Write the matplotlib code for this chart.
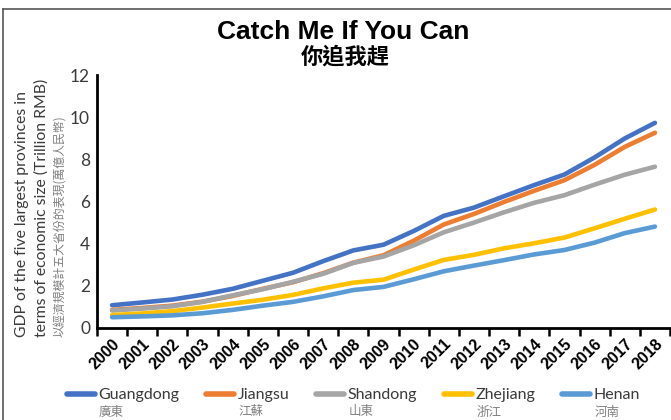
import matplotlib
matplotlib.use("Agg")
import matplotlib.pyplot as plt
from matplotlib.lines import Line2D

# GDP (trillion RMB) of the five largest provinces
years = [str(y) for y in range(2000, 2019)]
guangdong = [1.08, 1.21, 1.35, 1.58, 1.86, 2.24, 2.62, 3.17, 3.68, 3.95, 4.60, 5.32, 5.71, 6.25, 6.78, 7.28, 8.09, 8.99, 9.73]
jiangsu = [0.86, 0.95, 1.06, 1.25, 1.52, 1.86, 2.17, 2.60, 3.10, 3.45, 4.14, 4.91, 5.41, 5.98, 6.51, 7.01, 7.74, 8.59, 9.26]
shandong = [0.83, 0.92, 1.03, 1.24, 1.55, 1.84, 2.19, 2.57, 3.09, 3.39, 3.92, 4.54, 5.00, 5.49, 5.94, 6.30, 6.80, 7.27, 7.65]
zhejiang = [0.61, 0.69, 0.80, 0.97, 1.16, 1.34, 1.57, 1.88, 2.15, 2.29, 2.77, 3.23, 3.47, 3.78, 4.02, 4.29, 4.73, 5.18, 5.62]
henan = [0.51, 0.55, 0.60, 0.70, 0.86, 1.06, 1.24, 1.50, 1.80, 1.95, 2.31, 2.69, 2.96, 3.22, 3.49, 3.70, 4.05, 4.50, 4.81]

names_en = ["Guangdong", "Jiangsu", "Shandong", "Zhejiang", "Henan"]
names_zh = ["廣東", "江蘇", "山東", "浙江", "河南"]
colors = ["#4472C4", "#ED7D31", "#A5A5A5", "#FFC000", "#5B9BD5"]
series = [guangdong, jiangsu, shandong, zhejiang, henan]

LIGHT = ["Lato", "DejaVu Sans"]
CJK = ["Noto Sans CJK TC", "DejaVu Sans"]
TXT = "#3a3a3a"

W, H = 671, 420
fig = plt.figure(figsize=(W / 100, H / 100), dpi=100)
ax = fig.add_axes([97 / W, (H - 328) / H, (670 - 97) / W, (328 - 75) / H])

x = list(range(len(years)))
for vals, c, name in zip(series, colors, names_en):
    ax.plot(x, vals, color=c, lw=3.3, solid_joinstyle="round", solid_capstyle="round", label=name)

ax.set_xlim(-0.5, len(years) - 0.5)
ax.set_ylim(0, 12)
ax.set_yticks(range(0, 13, 2))
ax.tick_params(axis="y", length=0, pad=5, labelsize=12.5, labelcolor=TXT)
for t in ax.get_yticklabels():
    t.set_family(LIGHT)

# boundary ticks (Excel style) + centered labels
ax.set_xticks([i - 0.5 for i in range(len(years) + 1)])
ax.set_xticklabels([])
ax.set_xticks(x, minor=True)
ax.set_xticklabels(years, minor=True, rotation=45, ha="right", va="top",
                   rotation_mode="anchor", fontsize=11.5, fontweight="bold",
                   family=["Liberation Sans", "DejaVu Sans"])
ax.tick_params(axis="x", which="major", length=6, width=1.8, color="black")
ax.tick_params(axis="x", which="minor", length=0, pad=6)

for s in ["top", "right"]:
    ax.spines[s].set_visible(False)
for s in ["left", "bottom"]:
    ax.spines[s].set_linewidth(2)
    ax.spines[s].set_color("black")

# titles
fig.text(343 / W, 1 - 32 / H, "Catch Me If You Can", ha="center", va="center",
         fontsize=19, fontweight="bold", family=["Liberation Sans", "DejaVu Sans"])
fig.text(345 / W, 1 - 57 / H, "你追我趕", ha="center", va="center",
         fontsize=16, fontweight="bold", family=CJK)

# y axis labels
fig.text(22 / W, 1 - 337 / H, "GDP of the five largest provinces in", rotation=90,
         ha="center", va="bottom", fontsize=11.3, family=LIGHT, color=TXT)
fig.text(42 / W, 1 - 337 / H, "terms of economic size (Trillion RMB)", rotation=90,
         ha="center", va="bottom", fontsize=11.3, family=LIGHT, color=TXT)
fig.text(61 / W, 1 - 337 / H, "以經濟規模計五大省份的表現(萬億人民幣)", rotation=90,
         ha="center", va="bottom", fontsize=8.6, family=CJK, color="#808080")

# legend
leg = fig.legend(*ax.get_legend_handles_labels(), loc="center left",
                 bbox_to_anchor=(67 / W, 1 - 395 / H), ncol=5, frameon=False,
                 handlelength=1.75, handletextpad=0.2, columnspacing=1.7,
                 prop={"family": LIGHT, "size": 11.5}, borderaxespad=0,
                 borderpad=0)
for h in leg.get_lines():
    h.set_linewidth(4)
for t in leg.get_texts():
    t.set_color(TXT)

fig.canvas.draw()
inv = fig.transFigure.inverted()
for t, zh in zip(leg.get_texts(), names_zh):
    bb = t.get_window_extent()
    x0, _ = inv.transform((bb.x0, bb.y0))
    fig.text(x0 + 1 / W, 1 - 412 / H, zh, ha="left", va="center", fontsize=9,
             family=CJK, color="#808080")

# outer frame (top and left edges)
fig.add_artist(Line2D([3 / W, 1], [1 - 9 / H, 1 - 9 / H], transform=fig.transFigure,
                      color="#555555", lw=1.2))
fig.add_artist(Line2D([3 / W, 3 / W], [0, 1 - 9 / H], transform=fig.transFigure,
                      color="#555555", lw=1.2))

fig.savefig("out.png", dpi=100)
